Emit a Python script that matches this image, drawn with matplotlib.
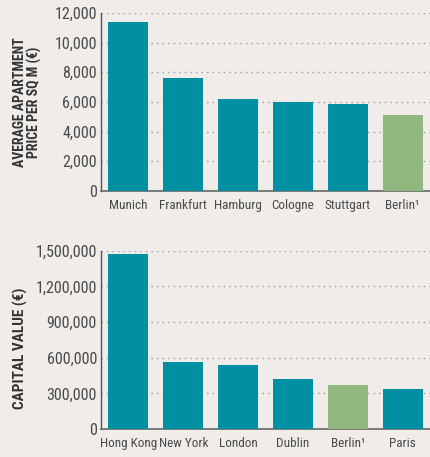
import matplotlib
matplotlib.use("Agg")
import matplotlib.pyplot as plt
from matplotlib import font_manager
from matplotlib.ticker import FuncFormatter

# Data
cities_top = ["Munich", "Frankfurt", "Hamburg", "Cologne", "Stuttgart", "Berlin\u00b9"]
price_sqm = [11400, 7600, 6200, 6000, 5850, 5100]
top_ticks = [0, 2000, 4000, 6000, 8000, 10000, 12000]

cities_bottom = ["Hong Kong", "New York", "London", "Dublin", "Berlin\u00b9", "Paris"]
capital_value = [1470000, 565000, 538000, 420000, 370000, 336000]
bottom_ticks = [0, 300000, 600000, 900000, 1200000, 1500000]

BG = "#efece9"
TEAL = "#0090a2"
GREEN = "#8fb77e"
TXT = "#4a4a4a"

names = {f.name for f in font_manager.fontManager.ttflist}
cond = [f for f in font_manager.fontManager.ttflist
        if f.name == "DejaVu Sans" and f.stretch == "condensed"]
fam = None
for cand in ["Liberation Sans Narrow", "Roboto Condensed", "Open Sans Condensed"]:
    if cand in names:
        fam = cand
        break
if fam is None:
    fam = "DejaVu Sans"
    if cond:
        plt.rcParams['font.stretch'] = 'condensed'
plt.rcParams['font.family'] = [fam, 'DejaVu Sans']

if fam == "DejaVu Sans" and cond:
    ys, xs, ls, ls2 = 10.8, 8.9, 9.5, 10.5
elif fam == "DejaVu Sans":
    ys, xs, ls, ls2 = 9, 7.7, 8.5, 9.3
else:
    ys, xs, ls, ls2 = 11.5, 9.5, 10, 11

fig = plt.figure(figsize=(4.30, 4.57), dpi=100, facecolor=BG)

def draw(ax, cats, vals, ticks, ylabel, lsize):
    ax.set_facecolor(BG)
    colors = [GREEN if c.startswith("Berlin") else TEAL for c in cats]
    x = range(len(cats))
    ax.bar(x, vals, width=0.73, color=colors, zorder=3)
    ax.set_xlim(-0.5, len(cats) - 0.5)
    ax.set_ylim(0, ticks[-1])
    ax.set_yticks(ticks)
    ax.yaxis.set_major_formatter(FuncFormatter(lambda v, p: f"{int(v):,}"))
    ax.set_xticks(list(x))
    ax.set_xticklabels(cats)
    for t in ticks[1:]:
        ax.axhline(t, color="#9a9a9a", lw=1.0, ls=(0, (1, 3)), zorder=1)
    for s in ["top", "right"]:
        ax.spines[s].set_visible(False)
    ax.spines["left"].set_color("#555555")
    ax.spines["bottom"].set_color("#666666")
    ax.spines["left"].set_linewidth(1.0)
    ax.spines["bottom"].set_linewidth(1.2)
    ax.tick_params(axis="y", length=0, pad=3, labelsize=ys, labelcolor=TXT)
    ax.tick_params(axis="x", length=0, pad=6, labelsize=xs, labelcolor=TXT)
    ax.set_ylabel(ylabel, fontsize=lsize, fontweight="bold", color="#333333",
                  linespacing=0.95)

ax1 = fig.add_axes([0.235, 0.582, 0.765, 0.390])
draw(ax1, cities_top, price_sqm, top_ticks, "AVERAGE APARTMENT\nPRICE PER SQ M (\u20ac)", ls)
ax1.yaxis.set_label_coords(-0.18, 0.5)

ax2 = fig.add_axes([0.235, 0.0613, 0.765, 0.390])
draw(ax2, cities_bottom, capital_value, bottom_ticks, "CAPITAL VALUE (\u20ac)", ls2)
ax2.yaxis.set_label_coords(-0.222, 0.45)

fig.savefig("out.png", dpi=100, facecolor=BG)
